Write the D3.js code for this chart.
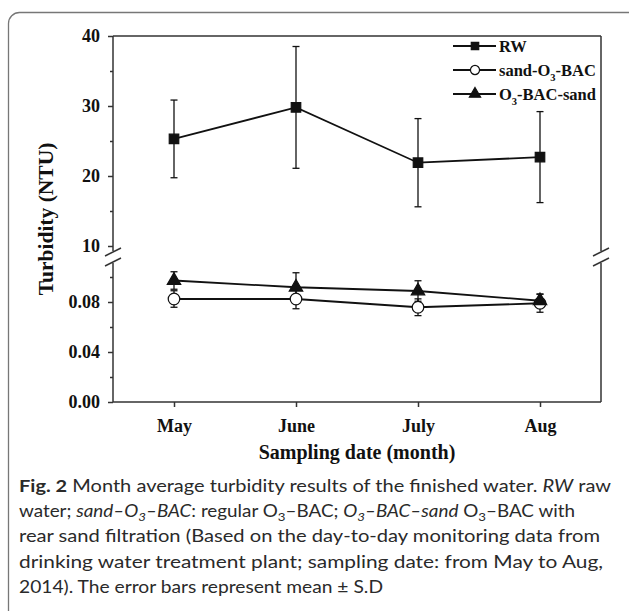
<!DOCTYPE html>
<html>
<head>
<meta charset="utf-8">
<script src="https://cdn.jsdelivr.net/npm/d3@7"></script>
<style>
  body { margin: 0; background: #fff; }
  svg { display: block; }
  .tick text { font-family: "Liberation Serif", "Times New Roman", serif; font-weight: bold; font-size: 18px; fill: #111; }
  .tick line { stroke: #333; stroke-width: 1.5; }
  .axis-title { font-family: "Liberation Serif", "Times New Roman", serif; font-weight: bold; font-size: 20px; fill: #111; }
  .legend text { font-family: "Liberation Serif", "Times New Roman", serif; font-weight: bold; font-size: 16.5px; fill: #111; }
  .caption { font-family: Lato, "Open Sans", sans-serif; font-size: 17px; fill: #2a2a2a; }
</style>
</head>
<body>
<div id="graph"></div>
<script>
var months = ["May", "June", "July", "Aug"];

var rwMean = [25.3, 29.8, 21.9, 22.7];
var rwSD = [5.55, 8.7, 6.3, 6.5];
var sandMean = [0.0824, 0.0824, 0.0758, 0.079];
var sandSD = [0.0066, 0.0078, 0.0067, 0.0072];
var o3Mean = [0.0972, 0.0918, 0.0888, 0.081];
var o3SD = [0.007, 0.0116, 0.0082, 0.0054];

var upperTicks = [10, 20, 30, 40];
var upperMinor = [15, 25, 35];
var lowerTicks = [0, 0.04, 0.08];
var lowerMinor = [0.02, 0.06, 0.10];

var width = 629, height = 611;
var plotLeft = 113, plotRight = 601, plotTop = 36, plotBottom = 402;
var upperBottom = 251, lowerTop = 263;

var svg = d3.select("#graph").append("svg")
    .attr("width", width)
    .attr("height", height);

// card border
svg.append("rect")
    .attr("x", 8.5).attr("y", 12.5)
    .attr("width", 700).attr("height", 700)
    .attr("rx", 11)
    .attr("fill", "none")
    .attr("stroke", "#777")
    .attr("stroke-width", 1.3);

var x = d3.scalePoint().domain(months).range([plotLeft, plotRight]).padding(0.5);
var yUp = d3.scaleLinear().domain([10, 40]).range([246, plotTop]);
var yLow = d3.scaleLinear().domain([0, 0.08]).range([plotBottom, 302]);

// axes
var axisColor = "#333";

function yAxis(scale, ticks, minor, fmt) {
  var g = svg.append("g").attr("transform", "translate(" + plotLeft + ",0)");
  g.call(d3.axisLeft(scale).tickValues(ticks).tickSize(5).tickPadding(8).tickFormat(fmt));
  g.select(".domain").remove();
  var m = svg.append("g").attr("transform", "translate(" + plotLeft + ",0)");
  m.call(d3.axisLeft(scale).tickValues(minor).tickSize(3).tickFormat(""));
  m.select(".domain").remove();
}
yAxis(yUp, upperTicks, upperMinor, d3.format("d"));
yAxis(yLow, lowerTicks, lowerMinor, d3.format(".2f"));

var xg = svg.append("g").attr("transform", "translate(0," + plotBottom + ")");
xg.call(d3.axisBottom(x).tickSize(5).tickPadding(8));
xg.select(".domain").remove();
xg.selectAll(".tick text").attr("dy", "0.95em");

var frame = svg.append("g")
    .attr("stroke", axisColor)
    .attr("stroke-width", 1.5)
    .attr("fill", "none");

[plotLeft, plotRight].forEach(function(ax) {
  frame.append("line").attr("x1", ax).attr("x2", ax).attr("y1", plotTop).attr("y2", upperBottom);
  frame.append("line").attr("x1", ax).attr("x2", ax).attr("y1", lowerTop).attr("y2", plotBottom);
  // break marks
  [upperBottom + 1, lowerTop - 1].forEach(function(yy) {
    frame.append("line")
        .attr("x1", ax - 8).attr("y1", yy + 4)
        .attr("x2", ax + 8).attr("y2", yy - 4);
  });
});
frame.append("line").attr("x1", plotLeft).attr("x2", plotRight).attr("y1", plotTop).attr("y2", plotTop);
frame.append("line").attr("x1", plotLeft).attr("x2", plotRight).attr("y1", plotBottom).attr("y2", plotBottom);

// axis titles
svg.append("text")
    .attr("class", "axis-title")
    .attr("x", (plotLeft + plotRight) / 2)
    .attr("y", 459)
    .attr("text-anchor", "middle")
    .text("Sampling date (month)");

svg.append("text")
    .attr("class", "axis-title")
    .attr("transform", "translate(53," + ((plotTop + plotBottom) / 2) + ") rotate(-90)")
    .attr("text-anchor", "middle")
    .style("font-size", "21.5px")
    .text("Turbidity (NTU)");

// series
function series(mean, sd, scale) {
  return months.map(function(m, i) {
    return { month: m, mean: mean[i], lo: mean[i] - sd[i], hi: mean[i] + sd[i], y: scale };
  });
}
var rw = series(rwMean, rwSD, yUp);
var sand = series(sandMean, sandSD, yLow);
var o3 = series(o3Mean, o3SD, yLow);

function errorBars(data) {
  var g = svg.append("g").attr("stroke", "#111").attr("stroke-width", 1.3);
  data.forEach(function(d) {
    var cx = x(d.month);
    g.append("line").attr("x1", cx).attr("x2", cx).attr("y1", d.y(d.lo)).attr("y2", d.y(d.hi));
    g.append("line").attr("x1", cx - 3.5).attr("x2", cx + 3.5).attr("y1", d.y(d.lo)).attr("y2", d.y(d.lo));
    g.append("line").attr("x1", cx - 3.5).attr("x2", cx + 3.5).attr("y1", d.y(d.hi)).attr("y2", d.y(d.hi));
  });
}

var line = d3.line()
    .x(function(d) { return x(d.month); })
    .y(function(d) { return d.y(d.mean); });

function appendLine(data) {
  svg.append("path")
      .datum(data)
      .attr("d", line)
      .attr("fill", "none")
      .attr("stroke", "#111")
      .attr("stroke-width", 1.8);
}

var square = d3.symbol().type(d3.symbolSquare).size(90);
var circle = d3.symbol().type(d3.symbolCircle).size(105);
var triangle = d3.symbol().type(d3.symbolTriangle).size(78);

function markers(data, sym, fill) {
  svg.append("g").selectAll("path")
    .data(data)
    .enter().append("path")
      .attr("d", sym)
      .attr("transform", function(d) { return "translate(" + x(d.month) + "," + d.y(d.mean) + ")"; })
      .attr("fill", fill)
      .attr("stroke", "#111")
      .attr("stroke-width", 1.2);
}

errorBars(rw); errorBars(sand); errorBars(o3);
appendLine(rw); appendLine(sand); appendLine(o3);
markers(rw, square, "#111");
markers(sand, circle, "#fff");
markers(o3, triangle, "#111");

// legend
var legendItems = [
  { sym: d3.symbol().type(d3.symbolSquare).size(55), fill: "#111", label: ["RW"] },
  { sym: d3.symbol().type(d3.symbolCircle).size(65), fill: "#fff", label: ["sand-O", "3", "-BAC"] },
  { sym: d3.symbol().type(d3.symbolTriangle).size(55), fill: "#111", label: ["O", "3", "-BAC-sand"] }
];
var legend = svg.append("g").attr("class", "legend");
legendItems.forEach(function(item, i) {
  var ly = 46 + i * 24;
  var g = legend.append("g").attr("transform", "translate(0," + ly + ")");
  g.append("line").attr("x1", 453).attr("x2", 496).attr("y1", 0).attr("y2", 0)
      .attr("stroke", "#111").attr("stroke-width", 1.8);
  g.append("path").attr("d", item.sym).attr("transform", "translate(475,0)")
      .attr("fill", item.fill).attr("stroke", "#111").attr("stroke-width", 1.2);
  var t = g.append("text").attr("x", 499).attr("y", 5.5);
  item.label.forEach(function(s, j) {
    if (s === "3") {
      t.append("tspan").attr("dy", 5).attr("font-size", "10.5px").text(s);
    } else {
      var ts = t.append("tspan").text(s);
      if (j > 0) ts.attr("dy", -5);
    }
  });
});

// caption
var caption = [
  [["b", "Fig. 2"], ["n", "  Month average turbidity results of the finished water. "], ["i", "RW"], ["n", " raw"]],
  [["n", "water; "], ["i", "sand–O"], ["is", "3"], ["i", "–BAC"], ["n", ": regular O"], ["s", "3"], ["n", "–BAC; "],
   ["i", "O"], ["is", "3"], ["i", "–BAC–sand"], ["n", " O"], ["s", "3"], ["n", "–BAC with"]],
  [["n", "rear sand filtration (Based on the day-to-day monitoring data from"]],
  [["n", "drinking water treatment plant; sampling date: from May to Aug,"]],
  [["n", "2014). The error bars represent mean ± S.D"]]
];
var captionWidths = [592, 556, 581, 584, 364];

caption.forEach(function(parts, i) {
  var t = svg.append("text")
      .attr("class", "caption")
      .attr("x", 19)
      .attr("y", 492 + i * 25.2)
      .attr("textLength", captionWidths[i])
      .attr("lengthAdjust", "spacingAndGlyphs");
  var sub = false;
  parts.forEach(function(p) {
    var ts = t.append("tspan").text(p[1]);
    var isSub = p[0] === "s" || p[0] === "is";
    if (p[0] === "b") ts.attr("font-weight", "bold");
    if (p[0] === "i" || p[0] === "is") ts.attr("font-style", "italic");
    if (isSub && !sub) ts.attr("dy", 4).attr("font-size", "12px");
    else if (isSub) ts.attr("font-size", "12px");
    if (!isSub && sub) ts.attr("dy", -4);
    sub = isSub;
  });
});
</script>
</body>
</html>
